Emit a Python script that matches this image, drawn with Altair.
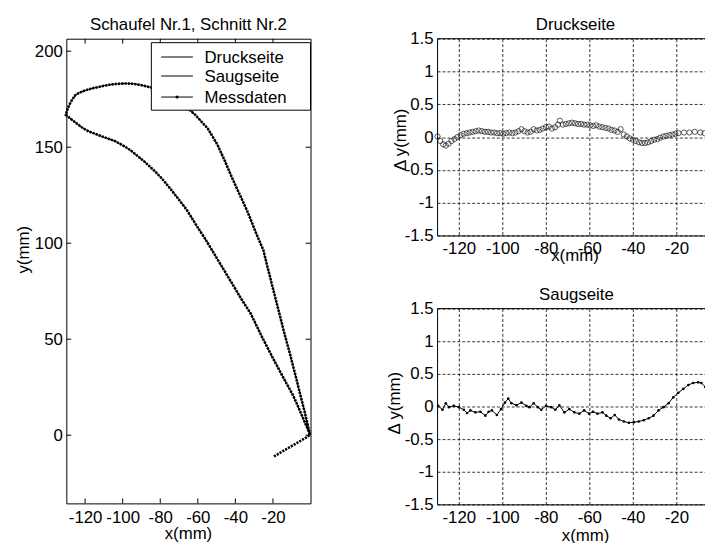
import altair as alt
import pandas as pd

FONT = "Liberation Sans"

# ---------------- blade profile (left panel) ----------------
suction_x = [-130.3, -129.6, -128.5, -127.0, -125.1, -123.0, -120.5, -118.0, -115.5, -112.8,
             -110.0, -107.0, -104.0, -100.5, -97.5, -94.0, -90.0, -86.0, -81.2, -77.0,
             -73.0, -69.0, -65.4, -61.5, -58.0, -54.9, -52.3, -49.6, -47.8, -46.0,
             -44.3, -42.6, -40.4, -38.2, -36.0, -33.8, -31.6, -29.5, -27.3, -25.1,
             -23.4, -21.6, -19.9, -18.2, -16.3, -14.6, -12.8, -11.0, -9.3, -7.5,
             -5.8, -4.0, -2.3, -0.3]
suction_y = [166.9, 169.2, 171.8, 174.6, 177.2, 178.4, 179.4, 180.2, 180.8, 181.4,
             182.0, 182.5, 182.9, 183.1, 183.2, 183.0, 182.3, 181.4, 180.3, 178.5,
             176.2, 173.4, 170.3, 167.0, 163.2, 160.0, 155.8, 151.4, 147.5, 143.7,
             139.8, 135.9, 131.1, 126.4, 121.7, 117.0, 111.7, 106.5, 101.4, 96.4,
             89.5, 82.6, 76.0, 69.5, 62.3, 55.6, 49.0, 42.6, 36.0, 29.2,
             22.4, 15.6, 8.8, 0.3]

pressure_x = [-130.3, -128.2, -126.0, -124.0, -122.0, -120.0, -118.0, -114.5, -111.0, -107.5,
              -104.0, -101.7, -99.5, -97.4, -95.3, -92.2, -89.0, -86.0, -83.0, -80.2,
              -77.5, -75.0, -72.4, -69.2, -66.0, -63.1, -60.2, -57.9, -55.6, -53.5,
              -51.4, -48.8, -46.1, -43.8, -41.5, -39.0, -36.5, -34.3, -32.1, -29.0,
              -26.0, -22.9, -19.8, -17.1, -14.5, -11.9, -9.3, -7.4, -5.5, -3.7,
              -1.9, -0.3]
pressure_y = [166.9, 165.2, 163.5, 162.0, 160.5, 159.3, 158.2, 156.9, 155.6, 154.4,
              153.1, 151.9, 150.7, 149.4, 148.0, 145.5, 143.0, 140.3, 137.6, 134.8,
              131.8, 128.8, 125.6, 121.6, 117.5, 113.0, 108.4, 105.0, 101.5, 98.1,
              94.7, 90.4, 86.1, 82.3, 78.6, 74.5, 70.4, 67.1, 63.8, 57.6,
              51.5, 45.6, 39.7, 34.8, 30.0, 25.4, 20.8, 16.6, 12.3, 8.2,
              4.1, 0.3]

tail_x = [-19.5, -17.3, -15.1, -12.9, -10.7, -8.5, -6.3, -4.2, -2.2, -0.3]
tail_y = [-11.0, -9.8, -8.5, -7.3, -6.0, -4.8, -3.5, -2.3, -1.1, 0.3]

series_names = ["Druckseite", "Saugseite", "Messdaten"]
panel_titles = ["Schaufel Nr.1, Schnitt Nr.2", "Druckseite", "Saugseite"]

# ---------------- deviations (right panels) ----------------
druck_x = [-129.8, -128.5, -127.2, -126.0, -124.7, -123.4, -122.0, -120.6, -119.2, -117.8,
           -116.4, -115.0, -113.6, -112.2, -110.8, -109.4, -108.0, -106.6, -105.2, -103.8,
           -102.4, -101.0, -99.6, -98.2, -96.8, -95.4, -94.0, -92.6, -91.2, -89.8,
           -88.4, -87.0, -85.6, -84.2, -82.8, -81.4, -80.0, -78.6, -77.2, -75.8,
           -74.4, -73.6, -72.2, -70.8, -69.4, -68.0, -66.6, -65.2, -63.8, -62.4,
           -61.0, -59.6, -58.2, -56.8, -55.4, -54.0, -52.6, -51.2, -49.8, -48.4,
           -47.0, -45.6, -44.2, -42.8, -41.4, -40.0, -38.6, -37.2, -35.8, -34.4,
           -33.0, -31.6, -30.2, -28.8, -27.4, -26.0, -24.6, -23.2, -21.8, -20.4,
           -19.0, -16.5, -14.0, -11.5, -9.0, -7.0, -4.8]
druck_dy = [0.01, -0.06, -0.11, -0.13, -0.10, -0.06, -0.03, 0.00, 0.03, 0.05,
            0.06, 0.07, 0.08, 0.09, 0.10, 0.09, 0.08, 0.08, 0.07, 0.07,
            0.06, 0.06, 0.05, 0.06, 0.07, 0.06, 0.07, 0.09, 0.12, 0.09,
            0.07, 0.08, 0.12, 0.10, 0.11, 0.13, 0.15, 0.16, 0.13, 0.15,
            0.19, 0.25, 0.19, 0.20, 0.21, 0.22, 0.21, 0.20, 0.20, 0.19,
            0.19, 0.18, 0.17, 0.18, 0.16, 0.15, 0.14, 0.13, 0.11, 0.10,
            0.08, 0.12, 0.04, 0.01, -0.02, -0.04, -0.06, -0.08, -0.09, -0.09,
            -0.08, -0.06, -0.04, -0.03, -0.01, 0.01, 0.02, 0.03, 0.04, 0.05,
            0.06, 0.07, 0.07, 0.08, 0.07, 0.06, -0.09]

saug_x = [-129.5, -127.5, -126.0, -124.5, -122.3, -120.0, -117.7, -116.2, -114.7, -112.4,
          -110.1, -107.8, -106.3, -104.8, -102.5, -100.6, -98.8, -97.3, -95.8, -93.5,
          -91.2, -89.0, -87.5, -85.6, -83.7, -82.1, -79.9, -77.6, -75.6, -73.8,
          -71.5, -69.2, -66.9, -64.6, -62.4, -60.1, -58.3, -56.3, -54.0, -52.2,
          -50.2, -48.3, -46.4, -44.1, -41.8, -39.5, -37.3, -35.0, -32.7, -30.5,
          -28.2, -25.9, -23.6, -21.4, -19.1, -16.8, -14.5, -12.3, -10.0, -8.5,
          -6.7, -4.7]
saug_dy = [0.01, -0.05, 0.05, -0.01, 0.01, -0.01, -0.05, -0.10, -0.06, -0.09,
           -0.08, -0.14, -0.08, -0.06, -0.13, -0.04, 0.06, 0.12, 0.05, 0.02,
           0.06, 0.01, -0.01, 0.05, -0.01, -0.05, 0.01, -0.01, -0.05, 0.02,
           -0.09, -0.04, -0.09, -0.11, -0.06, -0.11, -0.08, -0.11, -0.09, -0.14,
           -0.18, -0.13, -0.20, -0.23, -0.25, -0.24, -0.23, -0.21, -0.18, -0.14,
           -0.06, -0.01, 0.05, 0.14, 0.21, 0.27, 0.33, 0.36, 0.37, 0.36,
           0.30, 0.21]

xticks = [-120, -100, -80, -60, -40, -20]
yticks_profile = [0, 50, 100, 150, 200]
yticks_dev = [-1.5, -1, -0.5, 0, 0.5, 1, 1.5]

# ---------------- build tables ----------------
model_rows = []
for i, (x, y) in enumerate(zip(pressure_x, pressure_y)):
    model_rows.append({"x": x, "y": y, "series": "Druckseite", "i": i})
for i, (x, y) in enumerate(zip(suction_x, suction_y)):
    model_rows.append({"x": x, "y": y, "series": "Saugseite", "i": i})
model = pd.DataFrame(model_rows)

path = list(zip(tail_x, tail_y)) + list(zip(pressure_x, pressure_y))[::-1] + list(zip(suction_x, suction_y))
meas = pd.DataFrame([{"x": x, "y": y, "series": "Messdaten", "i": i} for i, (x, y) in enumerate(path)])

druck = pd.DataFrame({"x": druck_x, "dy": druck_dy})
saug = pd.DataFrame({"x": saug_x, "dy": saug_dy})
xtick_df = pd.DataFrame({"x": xticks})
ytick_df = pd.DataFrame({"y": yticks_profile})

num_label = "'' + datum.value"


def text_at(text, px, py, align="center"):
    return alt.Chart(pd.DataFrame({"t": [text]})).mark_text(
        font=FONT, fontSize=17, color="black", align=align, baseline="alphabetic",
    ).encode(text="t:N", x=alt.value(px), y=alt.value(py))


# ---------------- left panel ----------------
W_L, H_L = 247, 470
xs_left = alt.Scale(domain=[-130, 0], nice=False, zero=False)
ys_left = alt.Scale(domain=[-35.5, 206.5], nice=False, zero=False)

x_axis_left = alt.Axis(
    values=xticks, ticks=False, domain=False, grid=False,
    labelPadding=6, labelOverlap=False, labelFlush=False, labelExpr=num_label,
    title="x(mm)", titleX=123, titleY=36, titleAlign="center", titleBaseline="alphabetic")
y_axis_left = alt.Axis(
    values=yticks_profile, ticks=False, domain=False, grid=False,
    labelPadding=4, labelOverlap=False, labelExpr=num_label,
    title="y(mm)", titleX=-38.5, titleY=213, titleAngle=270, titleAlign="center",
    titleBaseline="alphabetic")

model_lines = alt.Chart(model).mark_line(strokeWidth=1, color="black").encode(
    x=alt.X("x:Q", scale=xs_left, axis=x_axis_left),
    y=alt.Y("y:Q", scale=ys_left, axis=y_axis_left),
    detail="series:N",
    order="i:Q",
)
meas_line = alt.Chart(meas).mark_line(strokeWidth=2.6, strokeDash=[2.2, 1.1], color="black").encode(
    x=alt.X("x:Q", scale=xs_left, axis=x_axis_left),
    y=alt.Y("y:Q", scale=ys_left, axis=y_axis_left),
    order="i:Q",
)

# inward tick marks on all four sides (MATLAB style)
tick_bottom = alt.Chart(xtick_df).mark_rule(color="black", strokeWidth=1).encode(
    x=alt.X("x:Q", scale=xs_left, axis=x_axis_left), y=alt.value(H_L - 5), y2=alt.value(H_L))
tick_top = alt.Chart(xtick_df).mark_rule(color="black", strokeWidth=1).encode(
    x=alt.X("x:Q", scale=xs_left, axis=x_axis_left), y=alt.value(0), y2=alt.value(5))
tick_left = alt.Chart(ytick_df).mark_rule(color="black", strokeWidth=1).encode(
    y=alt.Y("y:Q", scale=ys_left, axis=y_axis_left), x=alt.value(0), x2=alt.value(5))
tick_right = alt.Chart(ytick_df).mark_rule(color="black", strokeWidth=1).encode(
    y=alt.Y("y:Q", scale=ys_left, axis=y_axis_left), x=alt.value(W_L - 5), x2=alt.value(W_L))

# legend box (drawn in the upper right corner of the profile plot)
one = pd.DataFrame({"k": [0]})
legend_layers = [
    alt.Chart(one).mark_rect(fill="white", stroke="black", strokeWidth=1).encode(
        x=alt.value(86), x2=alt.value(W_L), y=alt.value(4), y2=alt.value(72.3))
]
row_line_y = [18.5, 37.7, 59.0]
row_text_y = [24.7, 44.0, 65.5]
for k, name in enumerate(series_names):
    legend_layers.append(alt.Chart(one).mark_rule(color="black", strokeWidth=1).encode(
        x=alt.value(96), x2=alt.value(128), y=alt.value(row_line_y[k])))
    legend_layers.append(text_at(name, 139.7, row_text_y[k], align="left"))
legend_layers.append(alt.Chart(one).mark_point(shape="circle", filled=True, color="black", size=10,
                                               opacity=1).encode(
    x=alt.value(112), y=alt.value(row_line_y[2])))

left = alt.layer(model_lines, meas_line, tick_bottom, tick_top, tick_left, tick_right,
                 *legend_layers,
                 text_at(panel_titles[0], W_L / 2, -9.3)).properties(width=W_L, height=H_L)

# ---------------- right panels ----------------
W_R = 276
xs_dev = alt.Scale(domain=[-130, -4.55], nice=False, zero=False)
ys_dev = alt.Scale(domain=[-1.5, 1.5], nice=False, zero=False)
top_line_df = pd.DataFrame({"dy": [1.5]})


def dev_axes(xtx, xty, ytx, yty):
    ax = alt.Axis(values=xticks, grid=True, gridDash=[3, 2], gridColor="black", gridOpacity=1,
                  gridWidth=0.8, ticks=False, domain=True, domainColor="black", domainWidth=1,
                  labelPadding=5, labelOverlap=False,
                  labelFlush=False, labelExpr=num_label,
                  title="x(mm)", titleX=xtx, titleY=xty, titleAlign="center",
                  titleBaseline="alphabetic")
    ay = alt.Axis(values=yticks_dev, grid=True, gridDash=[3, 2], gridColor="black", gridOpacity=1,
                  gridWidth=0.8, ticks=False, domain=True, domainColor="black", domainWidth=1,
                  labelPadding=4, labelOverlap=False,
                  labelFlush=False, labelExpr=num_label,
                  title="Δ y(mm)", titleX=ytx, titleY=yty, titleAngle=270, titleAlign="center",
                  titleBaseline="alphabetic")
    return ax, ay


def top_border(ay):
    return alt.Chart(top_line_df).mark_rule(color="black", strokeWidth=1).encode(
        y=alt.Y("dy:Q", scale=ys_dev, axis=ay))


ax1, ay1 = dev_axes(139, 25, -31.7, 101.8)
druck_pts = alt.Chart(druck).mark_point(shape="circle", filled=False, size=28, color="#111111",
                                        strokeWidth=1).encode(
    x=alt.X("x:Q", scale=xs_dev, axis=ax1),
    y=alt.Y("dy:Q", scale=ys_dev, axis=ay1),
)
top = alt.layer(druck_pts, top_border(ay1), text_at(panel_titles[1], 140, -9)).properties(
    width=W_R, height=199,
    view=alt.ViewBackground(stroke="transparent"),
)

ax2, ay2 = dev_axes(149.7, 37, -38.3, 95.2)
saug_line = alt.Chart(saug).mark_line(
    color="black", strokeWidth=1,
    point=alt.OverlayMarkDef(filled=True, color="black", size=7),
).encode(
    x=alt.X("x:Q", scale=xs_dev, axis=ax2),
    y=alt.Y("dy:Q", scale=ys_dev, axis=ay2),
)
bottom = alt.layer(saug_line, top_border(ay2), text_at(panel_titles[2], 141, -8.5)).properties(
    width=W_R, height=198,
    view=alt.ViewBackground(stroke="transparent"),
)

right = alt.vconcat(top, bottom, spacing=22)

chart = alt.hconcat(left, right, spacing=69).properties(
    autosize=alt.AutoSizeParams(type="none"),
    padding={"left": 59, "top": 28, "right": 646, "bottom": 507},
    background="white",
).configure_view(
    stroke="black", strokeWidth=1,
).configure_axis(
    labelFont=FONT, labelFontSize=17, labelColor="black",
    titleFont=FONT, titleFontSize=17, titleColor="black", titleFontWeight="normal",
    tickColor="black", domainColor="black",
)

chart.save("out.html", embed_options={"renderer": "svg", "actions": False})
